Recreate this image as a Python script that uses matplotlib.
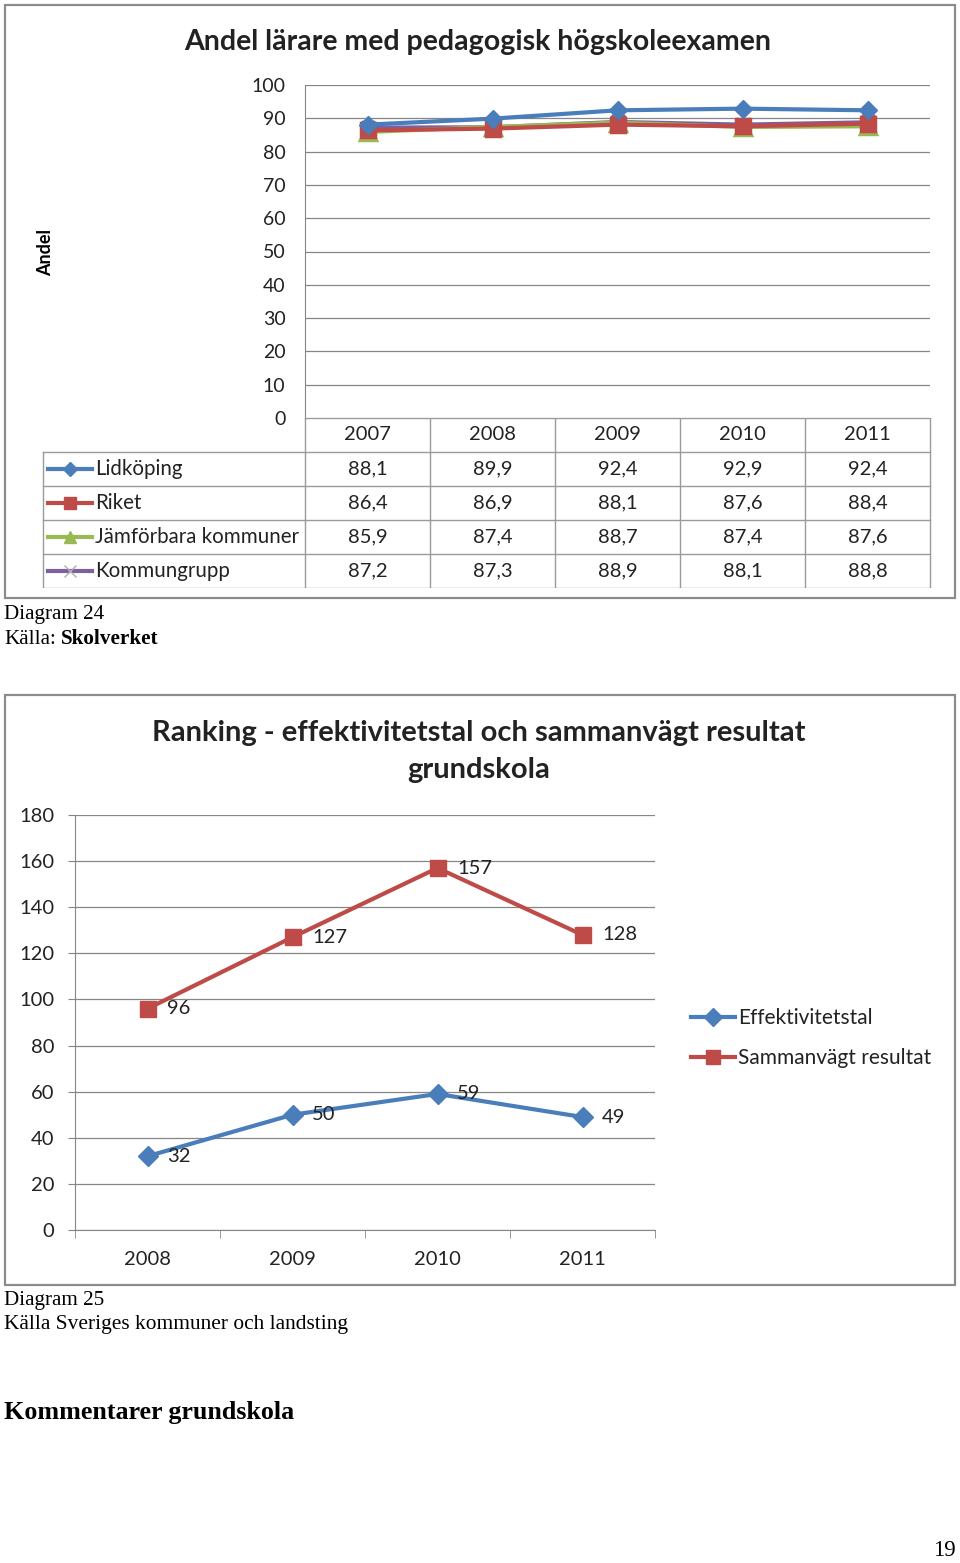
import matplotlib
matplotlib.use('Agg')
import matplotlib.pyplot as plt
from matplotlib.patches import Rectangle
from matplotlib.lines import Line2D

# --- data: chart 1 ---
years1 = ['2007', '2008', '2009', '2010', '2011']
series1 = ['Lidköping', 'Riket', 'Jämförbara kommuner', 'Kommungrupp']
lidkoping = [88.1, 89.9, 92.4, 92.9, 92.4]
riket = [86.4, 86.9, 88.1, 87.6, 88.4]
jamforbara = [85.9, 87.4, 88.7, 87.4, 87.6]
kommungrupp = [87.2, 87.3, 88.9, 88.1, 88.8]

# --- data: chart 2 ---
years2 = ['2008', '2009', '2010', '2011']
effektivitet = [32, 50, 59, 49]
sammanvagt = [96, 127, 157, 128]

W, H = 960, 1563
fig = plt.figure(figsize=(W / 100, H / 100), dpi=100)
FONT = 'Lato'
SERIF = 'Liberation Serif'

BLUE = '#4A7EBB'
RED = '#BE4B48'
GREEN = '#98B954'
PURPLE = '#7D60A0'
GRID = '#868686'
TXT = '#222222'


def box(x0, y0, x1, y1):
    return [x0 / W, 1 - y1 / H, (x1 - x0) / W, (y1 - y0) / H]


def frame(x0, y0, x1, y1):
    fig.patches.append(Rectangle((x0 / W, 1 - y1 / H), (x1 - x0) / W, (y1 - y0) / H,
                                 transform=fig.transFigure, fill=False,
                                 edgecolor='#8c8c8c', linewidth=1.6))


def ftext(x, y, s, **kw):
    fig.text(x / W, 1 - y / H, s, **kw)


# ================= Chart 1 =================
frame(5, 5, 955, 598)
ftext(478, 42, 'Andel lärare med pedagogisk högskoleexamen', ha='center', va='center',
      fontsize=20.5, fontweight='bold', family=FONT, color=TXT)
ftext(46, 252, 'Andel', rotation=90, ha='center', va='center', fontsize=13,
      fontweight='bold', family=FONT)

ax1 = fig.add_axes(box(305, 85, 930, 418))
ax1.set_xlim(-0.5, len(years1) - 0.5)
ax1.set_ylim(0, 100)
ax1.set_yticks(range(0, 101, 10))
ax1.tick_params(axis='y', length=0, pad=14, labelsize=14)
for lbl in ax1.get_yticklabels():
    lbl.set_family(FONT)
    lbl.set_color(TXT)
ax1.set_xticks([])
ax1.grid(axis='y', color=GRID, linewidth=0.9)
ax1.set_axisbelow(True)
for s in ['top', 'right', 'bottom']:
    ax1.spines[s].set_visible(False)
ax1.spines['left'].set_color(GRID)

styles1 = [
    (lidkoping, BLUE, 'D', 9, BLUE),
    (riket, RED, 's', 10, RED),
    (jamforbara, GREEN, '^', 11, GREEN),
    (kommungrupp, PURPLE, 'x', 10, PURPLE),
]
xs1 = list(range(len(years1)))
for vals, col, mk, ms, mc in reversed(styles1[1:]):
    ax1.plot(xs1, vals, color=col, linewidth=3, marker=mk, markersize=ms,
             markerfacecolor=mc, markeredgecolor=mc, markeredgewidth=2.5, clip_on=False)
vals, col, mk, ms, mc = styles1[0]
ax1.plot(xs1, vals, color=col, linewidth=3, marker=mk, markersize=ms,
         markerfacecolor=mc, markeredgecolor=mc, clip_on=False, zorder=5)

# data table below chart 1
axt = fig.add_axes(box(0, 418, W, 588))
axt.set_xlim(0, W)
axt.set_ylim(588, 418)
axt.axis('off')
col_x0, col_w, leg_x0 = 305, 125, 43
row_y0, row_h = 418, 34
nrows = len(series1) + 1
lc = '#9a9a9a'
axt.plot([col_x0, col_x0 + col_w * len(years1)], [row_y0, row_y0], color=lc, lw=1)
for r in range(1, nrows + 1):
    y = row_y0 + r * row_h
    axt.plot([leg_x0, col_x0 + col_w * len(years1)], [y, y], color=lc, lw=1)
for c in range(len(years1) + 1):
    x = col_x0 + c * col_w
    axt.plot([x, x], [row_y0, row_y0 + nrows * row_h], color=lc, lw=1)
axt.plot([leg_x0, leg_x0], [row_y0 + row_h, row_y0 + nrows * row_h], color=lc, lw=1)

for c, yr in enumerate(years1):
    axt.text(col_x0 + (c + 0.5) * col_w, row_y0 + 0.5 * row_h, yr, ha='center',
             va='center', fontsize=14.5, family=FONT, color=TXT)
for r, (name, st) in enumerate(zip(series1, styles1)):
    vals, col, mk, ms, mc = st
    yc = row_y0 + (r + 1.5) * row_h
    axt.plot([48, 92], [yc, yc], color=col, lw=3)
    axt.plot([70], [yc], marker=mk, color=mc, markersize=ms * 0.8,
             markeredgewidth=1, markeredgecolor=('#b0b0b0' if mk == 'x' else mc))
    axt.text(95, yc, name, ha='left', va='center', fontsize=14.8, family=FONT, color=TXT)
    for c, v in enumerate(vals):
        axt.text(col_x0 + (c + 0.5) * col_w, yc, f'{v:.1f}'.replace('.', ','), ha='center',
                 va='center', fontsize=14.5, family=FONT, color=TXT)

ftext(4, 614, 'Diagram 24', ha='left', va='center', fontsize=15.2, family=SERIF)
ftext(4, 639, 'Källa:', ha='left', va='center', fontsize=15.2, family=SERIF)
ftext(61, 639, 'Skolverket', ha='left', va='center', fontsize=15.2, family=SERIF, fontweight='bold')

# ================= Chart 2 =================
frame(5, 695, 955, 1285)
ftext(479, 733, 'Ranking - effektivitetstal och sammanvägt resultat', ha='center', va='center',
      fontsize=21, fontweight='bold', family=FONT, color=TXT)
ftext(479, 770, 'grundskola', ha='center', va='center',
      fontsize=21, fontweight='bold', family=FONT, color=TXT)

ax2 = fig.add_axes(box(75, 815, 655, 1230))
ax2.set_xlim(-0.5, len(years2) - 0.5)
ax2.set_ylim(0, 180)
ax2.set_yticks(range(0, 181, 20))
ax2.grid(axis='y', color=GRID, linewidth=0.9)
ax2.set_axisbelow(True)
for s in ['top', 'right']:
    ax2.spines[s].set_visible(False)
ax2.spines['left'].set_color(GRID)
ax2.spines['bottom'].set_color(GRID)
xs2 = list(range(len(years2)))
ax2.set_xticks(xs2)
ax2.set_xticklabels(years2)
ax2.set_xticks([x + 0.5 for x in [-1] + xs2], minor=True)
ax2.tick_params(axis='x', which='major', length=0, pad=15, labelsize=14.5)
ax2.tick_params(axis='x', which='minor', length=6, color=GRID, direction='out')
ax2.tick_params(axis='y', length=5, color=GRID, direction='out', pad=10, labelsize=14.5)
for lbl in ax2.get_xticklabels() + ax2.get_yticklabels():
    lbl.set_family(FONT)
    lbl.set_color(TXT)

ax2.plot(xs2, effektivitet, color=BLUE, lw=3, marker='D', markersize=10,
         label='Effektivitetstal', clip_on=False)
ax2.plot(xs2, sammanvagt, color=RED, lw=3, marker='s', markersize=12,
         label='Sammanvägt resultat', clip_on=False)
for x, v in zip(xs2, effektivitet):
    ax2.annotate(str(v), (x, v), xytext=(14, 0), textcoords='offset points',
                 ha='left', va='center', fontsize=14.5, family=FONT, color=TXT)
for x, v in zip(xs2, sammanvagt):
    ax2.annotate(str(v), (x, v), xytext=(14, 0), textcoords='offset points',
                 ha='left', va='center', fontsize=14.5, family=FONT, color=TXT)

handles = [Line2D([], [], color=BLUE, lw=3, marker='D', markersize=9),
           Line2D([], [], color=RED, lw=3, marker='s', markersize=10)]
fig.legend(handles, ['Effektivitetstal', 'Sammanvägt resultat'],
           loc='center left', bbox_to_anchor=(672 / W, 1 - 1038 / H), frameon=False,
           prop={'family': FONT, 'size': 15}, handlelength=2.1, handletextpad=0.15,
           labelspacing=0.95, labelcolor=TXT)

ftext(4, 1300, 'Diagram 25', ha='left', va='center', fontsize=15.2, family=SERIF)
ftext(4, 1325, 'Källa Sveriges kommuner och landsting', ha='left', va='center', fontsize=15.4,
      family=SERIF)
ftext(4, 1413, 'Kommentarer grundskola', ha='left', va='center', fontsize=18.7, family=SERIF,
      fontweight='bold')
ftext(956, 1551, '19', ha='right', va='center', fontsize=16.5, family=SERIF)

fig.savefig('out.png', dpi=100)
